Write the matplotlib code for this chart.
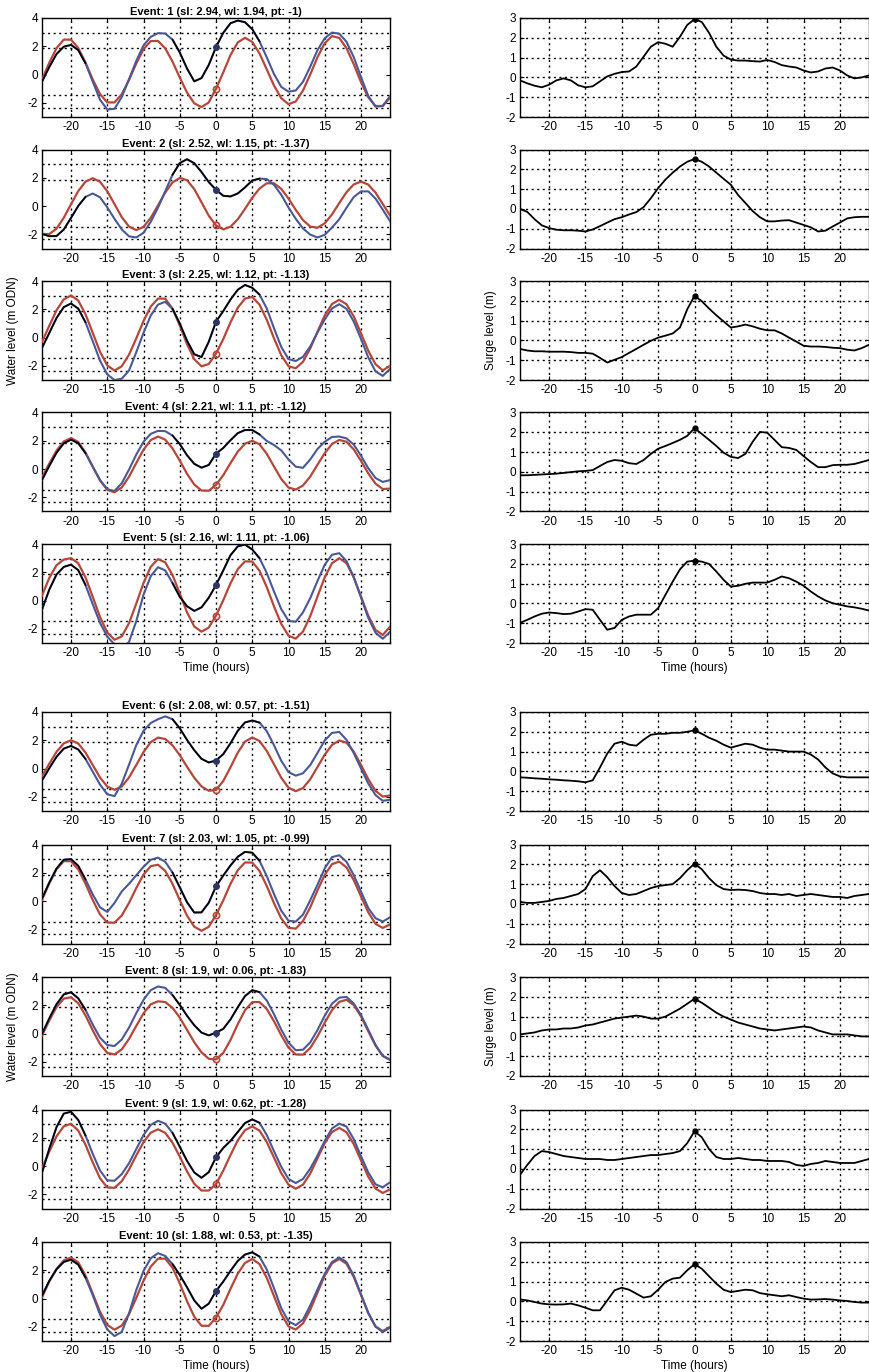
import numpy as np
import matplotlib.pyplot as plt

plt.rcParams['font.family'] = ['Liberation Sans', 'DejaVu Sans']
plt.rcParams['axes.unicode_minus'] = False

hours = np.arange(-24, 25)

event_sl = [2.94, 2.52, 2.25, 2.21, 2.16, 2.08, 2.03, 1.9, 1.9, 1.88]
event_wl = [1.94, 1.15, 1.12, 1.1, 1.11, 0.57, 1.05, 0.06, 0.62, 0.53]
event_pt = [-1, -1.37, -1.13, -1.12, -1.06, -1.51, -0.99, -1.83, -1.28, -1.35]

# reference tide levels (m ODN) drawn as dotted lines on the water level panels
tide_levels = [2.95, 1.85, -1.45, -2.35]

# predicted tide, hourly from -24 h to +24 h
tide1 = [-0.35, 0.83, 1.87, 2.47, 2.47, 1.88, 0.85, -0.35, -1.38, -1.97, -1.97, -1.39, -0.38, 0.78, 1.79, 2.37, 2.38,
         1.85, 0.92, -0.21, -1.27, -2.03, -2.3, -1.97, -1.0, 0.15, 1.38, 2.27, 2.6, 2.31, 1.5, 0.37, -0.78, -1.67,
         -2.09, -1.9, -1.13, 0.01, 1.23, 2.22, 2.72, 2.59, 1.87, 0.73, -0.53, -1.61, -2.22, -2.22, -1.63]
tide2 = [-1.97, -1.98, -1.6, -0.83, 0.13, 1.06, 1.73, 1.97, 1.72, 1.05, 0.14, -0.78, -1.45, -1.7, -1.47, -0.83, 0.05,
         0.96, 1.67, 1.99, 1.83, 1.2, 0.27, -0.68, -1.37, -1.65, -1.46, -0.94, -0.2, 0.59, 1.24, 1.61, 1.61, 1.22,
         0.53, -0.27, -0.99, -1.45, -1.53, -1.22, -0.59, 0.21, 0.98, 1.53, 1.73, 1.52, 0.95, 0.15, -0.66]
tide3 = [-0.3, 0.83, 1.93, 2.7, 2.98, 2.62, 1.65, 0.33, -1.0, -1.97, -2.33, -2.03, -1.21, -0.06, 1.17, 2.19, 2.76,
         2.75, 2.05, 0.86, -0.46, -1.53, -2.03, -1.87, -1.13, -0.11, 1.08, 2.11, 2.76, 2.87, 2.33, 1.26, -0.05, -1.25,
         -2.03, -2.17, -1.71, -0.77, 0.42, 1.56, 2.37, 2.67, 2.36, 1.5, 0.3, -0.93, -1.88, -2.32, -2.0]
tide4 = [-0.6, 0.39, 1.3, 1.95, 2.19, 1.92, 1.17, 0.17, -0.8, -1.47, -1.64, -1.3, -0.54, 0.42, 1.37, 2.05, 2.3,
         2.08, 1.46, 0.6, -0.33, -1.09, -1.52, -1.53, -1.12, -0.43, 0.42, 1.23, 1.79, 2.0, 1.75, 1.08, 0.18, -0.7,
         -1.3, -1.45, -1.16, -0.53, 0.31, 1.13, 1.77, 2.06, 1.93, 1.39, 0.58, -0.3, -1.03, -1.41, -1.38]
tide5 = [0.35, 1.6, 2.5, 2.9, 3.0, 2.64, 1.64, 0.26, -1.16, -2.26, -2.77, -2.53, -1.6, -0.22, 1.24, 2.39, 2.93,
         2.7, 1.81, 0.51, -0.83, -1.83, -2.2, -1.91, -1.06, 0.02, 1.22, 2.22, 2.77, 2.76, 2.11, 0.96, -0.41, -1.65,
         -2.48, -2.69, -2.19, -1.1, 0.29, 1.65, 2.64, 3.0, 2.64, 1.64, 0.29, -1.07, -2.07, -2.43, -1.85]
tide6 = [-0.54, 0.34, 1.18, 1.78, 2.0, 1.77, 1.13, 0.25, -0.63, -1.27, -1.5, -1.27, -0.63, 0.25, 1.16, 1.87, 2.19,
         2.09, 1.64, 0.95, 0.13, -0.65, -1.26, -1.57, -1.51, -0.88, 0.09, 1.12, 1.91, 2.2, 1.95, 1.25, 0.3, -0.65,
         -1.35, -1.6, -1.38, -0.75, 0.11, 0.99, 1.67, 1.99, 1.83, 1.2, 0.26, -0.75, -1.57, -1.98, -1.9]
tide7 = [0.08, 1.25, 2.25, 2.82, 2.82, 2.24, 1.23, 0.07, -0.94, -1.52, -1.53, -1.02, -0.13, 0.92, 1.87, 2.47, 2.57,
         2.13, 1.22, 0.07, -1.03, -1.81, -2.1, -1.82, -0.99, 0.05, 1.22, 2.18, 2.73, 2.72, 2.13, 1.07, -0.15, -1.23,
         -1.89, -1.95, -1.41, -0.44, 0.76, 1.86, 2.61, 2.79, 2.38, 1.48, 0.33, -0.79, -1.61, -1.9, -1.65]
tide8 = [-0.13, 0.92, 1.87, 2.47, 2.57, 2.14, 1.28, 0.23, -0.74, -1.36, -1.48, -1.12, -0.38, 0.54, 1.43, 2.07, 2.28,
         2.23, 1.82, 1.13, 0.26, -0.61, -1.33, -1.78, -1.83, -1.37, -0.45, 0.66, 1.65, 2.22, 2.23, 1.74, 0.87, -0.12,
         -0.99, -1.48, -1.49, -1.02, -0.2, 0.77, 1.66, 2.24, 2.39, 2.02, 1.21, 0.17, -0.85, -1.58, -1.85]
tide9 = [-0.17, 1.02, 2.1, 2.81, 2.99, 2.51, 1.51, 0.26, -0.86, -1.51, -1.54, -1.07, -0.25, 0.75, 1.69, 2.36, 2.6,
         2.35, 1.65, 0.67, -0.38, -1.25, -1.73, -1.73, -1.28, -0.32, 0.78, 1.81, 2.54, 2.8, 2.51, 1.7, 0.6, -0.5,
         -1.31, -1.6, -1.31, -0.53, 0.55, 1.63, 2.41, 2.7, 2.39, 1.55, 0.4, -0.75, -1.59, -1.9, -1.65]
tide10 = [0.1, 1.2, 2.1, 2.7, 2.9, 2.56, 1.63, 0.35, -0.93, -1.86, -2.2, -1.91, -1.1, 0.04, 1.26, 2.26, 2.82,
          2.82, 2.18, 1.08, -0.18, -1.28, -1.92, -1.93, -1.35, -0.45, 0.69, 1.76, 2.52, 2.8, 2.44, 1.47, 0.17, -1.1,
          -1.97, -2.19, -1.75, -0.8, 0.43, 1.62, 2.49, 2.8, 2.46, 1.53, 0.25, -1.03, -1.96, -2.3, -2.0]

# surge (observed minus predicted), hourly
surge1 = [-0.15, -0.3, -0.42, -0.5, -0.37, -0.15, -0.05, -0.15, -0.4, -0.5, -0.45, -0.2, 0.05, 0.18, 0.27, 0.3, 0.55,
          1.05, 1.55, 1.78, 1.7, 1.55, 2.05, 2.65, 2.94, 2.8, 2.25, 1.55, 1.1, 0.9, 0.85, 0.85, 0.82, 0.8, 0.88,
          0.78, 0.62, 0.55, 0.5, 0.35, 0.25, 0.3, 0.45, 0.5, 0.35, 0.1, -0.05, 0.0, 0.1]
surge2 = [0.0, -0.15, -0.52, -0.83, -0.97, -1.05, -1.08, -1.08, -1.1, -1.14, -1.04, -0.87, -0.69, -0.52, -0.42, -0.28,
          -0.16, 0.09, 0.54, 1.05, 1.48, 1.83, 2.14, 2.38, 2.52, 2.38, 2.14, 1.83, 1.52, 1.22, 0.7, 0.3, -0.11, -0.42,
          -0.63, -0.63, -0.59, -0.57, -0.69, -0.81, -0.93, -1.14, -1.1, -0.89, -0.69, -0.48, -0.42, -0.4, -0.4]
surge3 = [-0.43, -0.51, -0.55, -0.55, -0.57, -0.57, -0.57, -0.59, -0.63, -0.63, -0.67, -0.88, -1.12, -0.98, -0.84,
          -0.63, -0.43, -0.22, -0.02, 0.14, 0.24, 0.35, 0.65, 1.57, 2.25, 1.98, 1.61, 1.27, 0.96, 0.65, 0.71, 0.8,
          0.71, 0.59, 0.51, 0.51, 0.35, 0.14, -0.06, -0.27, -0.31, -0.31, -0.33, -0.37, -0.39, -0.47, -0.51, -0.39,
          -0.22]
surge4 = [-0.17, -0.17, -0.15, -0.13, -0.11, -0.09, -0.05, -0.01, 0.03, 0.05, 0.09, 0.3, 0.5, 0.6, 0.56, 0.44, 0.4,
          0.6, 0.91, 1.17, 1.31, 1.46, 1.62, 1.82, 2.21, 1.92, 1.62, 1.31, 0.97, 0.76, 0.7, 0.91, 1.52, 2.02, 1.98,
          1.62, 1.25, 1.21, 1.11, 0.8, 0.5, 0.24, 0.24, 0.34, 0.36, 0.36, 0.4, 0.5, 0.6]
surge5 = [-0.99, -0.83, -0.66, -0.52, -0.46, -0.49, -0.54, -0.52, -0.41, -0.29, -0.32, -0.83, -1.33, -1.24, -0.83,
          -0.66, -0.57, -0.57, -0.57, -0.24, 0.43, 1.1, 1.72, 2.11, 2.16, 2.11, 1.99, 1.61, 1.19, 0.85, 0.89, 0.99,
          1.05, 1.05, 1.05, 1.19, 1.36, 1.27, 1.1, 0.89, 0.6, 0.35, 0.15, 0.01, -0.07, -0.15, -0.2, -0.27, -0.36]
surge6 = [-0.3, -0.32, -0.35, -0.37, -0.4, -0.42, -0.45, -0.47, -0.5, -0.55, -0.45, 0.2, 0.9, 1.4, 1.5, 1.35, 1.3,
          1.6, 1.85, 1.9, 1.9, 1.95, 1.95, 2.0, 2.08, 1.9, 1.7, 1.55, 1.35, 1.2, 1.3, 1.4, 1.35, 1.2, 1.1, 1.1, 1.05,
          1.0, 1.0, 1.0, 0.85, 0.6, 0.2, -0.1, -0.25, -0.3, -0.3, -0.3, -0.3]
surge7 = [0.1, 0.05, 0.05, 0.1, 0.15, 0.25, 0.3, 0.4, 0.5, 0.75, 1.4, 1.7, 1.35, 0.9, 0.55, 0.45, 0.5, 0.65, 0.8,
          0.9, 0.95, 1.0, 1.3, 1.7, 2.03, 1.75, 1.3, 0.95, 0.75, 0.7, 0.72, 0.7, 0.65, 0.55, 0.5, 0.5, 0.45, 0.5, 0.4,
          0.45, 0.5, 0.45, 0.4, 0.35, 0.35, 0.3, 0.4, 0.45, 0.5]
surge8 = [0.1, 0.15, 0.2, 0.3, 0.35, 0.35, 0.4, 0.4, 0.45, 0.55, 0.6, 0.7, 0.8, 0.9, 0.95, 1.0, 1.05, 1.0, 0.9, 0.9,
          1.0, 1.2, 1.4, 1.65, 1.9, 1.7, 1.45, 1.2, 1.0, 0.85, 0.7, 0.6, 0.5, 0.4, 0.35, 0.3, 0.35, 0.4, 0.45, 0.5,
          0.45, 0.3, 0.2, 0.1, 0.1, 0.1, 0.05, 0.0, 0.0]
surge9 = [-0.3, 0.2, 0.65, 0.9, 0.85, 0.75, 0.65, 0.6, 0.55, 0.5, 0.5, 0.5, 0.45, 0.45, 0.5, 0.55, 0.6, 0.65, 0.7,
          0.7, 0.75, 0.8, 0.9, 1.3, 1.9, 1.6, 1.0, 0.6, 0.5, 0.5, 0.55, 0.5, 0.45, 0.45, 0.4, 0.4, 0.4, 0.35, 0.2,
          0.15, 0.25, 0.3, 0.4, 0.35, 0.3, 0.3, 0.3, 0.4, 0.5]
surge10 = [0.1, 0.05, -0.03, -0.11, -0.15, -0.16, -0.15, -0.11, -0.2, -0.32, -0.45, -0.45, 0.05, 0.56, 0.69, 0.59,
           0.39, 0.19, 0.26, 0.59, 0.98, 1.15, 1.2, 1.57, 1.88, 1.65, 1.27, 0.9, 0.59, 0.47, 0.53, 0.59, 0.56, 0.42,
           0.36, 0.31, 0.26, 0.31, 0.22, 0.14, 0.09, 0.1, 0.12, 0.09, 0.05, 0.02, -0.03, -0.06, -0.06]

tides = [tide1, tide2, tide3, tide4, tide5, tide6, tide7, tide8, tide9, tide10]
surges = [surge1, surge2, surge3, surge4, surge5, surge6, surge7, surge8, surge9, surge10]

BLACK = '#000000'
BLUE = '#4a5894'
RED = '#b3473b'

W, H = 869, 1372
tops = [18, 149.5, 281, 412.5, 544, 712, 844.5, 977, 1109.5, 1242]
ph = 99

fig = plt.figure(figsize=(W / 100, H / 100), dpi=100)


def style_axes(ax, ylim, yticks):
    ax.set_xlim(-24, 24)
    ax.set_ylim(*ylim)
    ax.set_xticks(np.arange(-20, 21, 5))
    ax.set_yticks(yticks)
    ax.tick_params(direction='in', top=True, right=True, length=3, labelsize=8.5, pad=3)
    for s in ax.spines.values():
        s.set_linewidth(1.0)


for i in range(10):
    tide = np.array(tides[i])
    surge = np.array(surges[i])
    obs = tide + surge
    bottom = 1 - (tops[i] + ph) / H

    # water level panel
    ax = fig.add_axes([42 / W, bottom, 348 / W, ph / H])
    style_axes(ax, (-3, 4), [-2, 0, 2, 4])
    for lv in tide_levels:
        ax.axhline(lv, color='k', ls=(0, (1.5, 2.5)), lw=1.0, zorder=1)
    for xv in range(-20, 21, 5):
        ax.axvline(xv, color='k', ls=(0, (1.5, 2.5)), lw=1.0, zorder=1)
    ax.plot(hours, tide, color=RED, lw=1.6, zorder=3)
    ax.plot(hours, obs, color=BLUE, lw=1.5, zorder=4)
    black_part = np.where((hours <= -18) | ((hours >= -6) & (hours <= 6)), obs, np.nan)
    ax.plot(hours, black_part, color=BLACK, lw=1.2, zorder=5)
    ax.plot(0, event_wl[i], 'o', color='#2c3566', ms=4, zorder=6)
    ax.plot(0, event_pt[i], 'o', mfc='none', mec=RED, mew=1.2, ms=4.5, zorder=6)
    ax.set_title('Event: {} (sl: {:g}, wl: {:g}, pt: {:g})'.format(i + 1, event_sl[i], event_wl[i], event_pt[i]),
                 fontsize=8, fontweight='bold', pad=2)

    # surge panel
    ax2 = fig.add_axes([520 / W, bottom, 349 / W, ph / H])
    style_axes(ax2, (-2, 3), [-2, -1, 0, 1, 2, 3])
    ax2.grid(True, color='k', ls=(0, (1.5, 2.5)), lw=1.0)
    ax2.plot(hours, surge, color=BLACK, lw=1.3, zorder=4)
    ax2.plot(0, event_sl[i], 'o', color=BLACK, ms=3.5, zorder=5)

    if i in (2, 7):
        ax.set_ylabel('Water level (m ODN)', fontsize=8.5, labelpad=6)
        ax2.set_ylabel('Surge level (m)', fontsize=8.5, labelpad=6)
    if i in (4, 9):
        ax.set_xlabel('Time (hours)', fontsize=8.5, labelpad=2)
        ax2.set_xlabel('Time (hours)', fontsize=8.5, labelpad=2)

fig.savefig('out.png', dpi=100)
